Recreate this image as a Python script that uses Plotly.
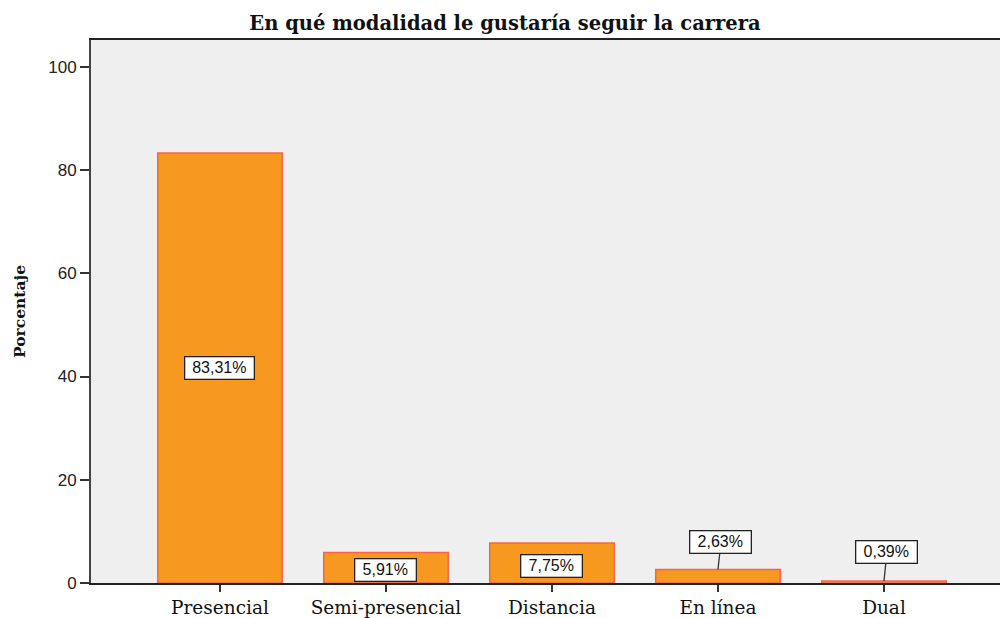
import plotly.graph_objects as go

categories = ["Presencial", "Semi-presencial", "Distancia", "En línea", "Dual"]
values = [83.31, 5.91, 7.75, 2.63, 0.39]
labels = ["83,31%", "5,91%", "7,75%", "2,63%", "0,39%"]
y_ticks = [0, 20, 40, 60, 80, 100]

x_pos = list(range(len(categories)))

fig = go.Figure()
fig.add_trace(go.Bar(
    x=x_pos, y=values, width=0.75,
    marker=dict(color="#f7991f", line=dict(color="#f3654c", width=1.5)),
    hoverinfo="skip",
))

lab_font = dict(family="Liberation Sans, Arial", size=16, color="#111")
for i, (v, lab) in enumerate(zip(values, labels)):
    w = 66 if len(lab) > 5 else 58
    if v >= 5:
        fig.add_annotation(x=i, y=v / 2 if v > 20 else v * 0.43, text=lab, showarrow=False,
                           font=lab_font, bgcolor="white", bordercolor="#222",
                           borderwidth=1.3, borderpad=1, width=w, height=19)
    else:
        fig.add_annotation(x=i, y=v, text=lab, showarrow=True, arrowhead=0,
                           arrowwidth=1.3, arrowcolor="#333",
                           ax=3, ay=-27 if v > 1 else -29, standoff=0,
                           font=lab_font, bgcolor="white", bordercolor="#222",
                           borderwidth=1.3, borderpad=1, width=w, height=19)

fig.update_layout(
    width=1000, height=618,
    margin=dict(l=91, r=0, t=40, b=35, autoexpand=False),
    paper_bgcolor="white", plot_bgcolor="#efefef",
    showlegend=False,
    title=dict(text="<b>En qué modalidad le gustaría seguir la carrera</b>",
               x=0.505, xanchor="center", y=0.963, yanchor="middle",
               font=dict(family="DejaVu Serif", size=19.5, color="#111")),
    xaxis=dict(range=[-0.777, 4.699], tickvals=x_pos, ticktext=categories,
               automargin=False,
               showline=True, linecolor="#222", linewidth=1.5, mirror=True,
               ticks="outside", ticklen=7, tickwidth=1.5, tickcolor="#333",
               showgrid=False, zeroline=False,
               tickfont=dict(family="DejaVu Serif", size=18.5, color="#111")),
    yaxis=dict(range=[0, 105.2], tickvals=y_ticks, automargin=False,
               showline=True, linecolor="#444", linewidth=2,
               ticks="outside", ticklen=9, tickwidth=1.5, tickcolor="#333",
               showgrid=False, zeroline=False,
               tickfont=dict(family="Liberation Sans, Arial", size=17, color="#222"),
               title=dict(text="<b>Porcentaje</b>", standoff=19,
                          font=dict(family="DejaVu Serif", size=15.5, color="#111"))),
)

fig.write_html("out.html", config={"displayModeBar": False},
               post_script="document.body.style.margin='0';document.body.style.overflow='hidden';")
